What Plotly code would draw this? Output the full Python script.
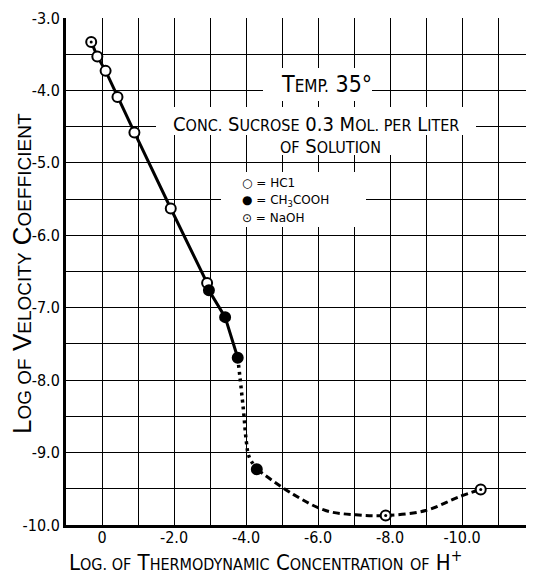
import plotly.graph_objects as go

# ---- data ----
hcl_x = [0.30, 0.13, -0.10, -0.43, -0.90, -1.91, -2.92]
hcl_y = [-3.33, -3.53, -3.73, -4.09, -4.58, -5.63, -6.66]
acetic_x = [-2.97, -3.42, -3.77, -4.30]
acetic_y = [-6.76, -7.13, -7.69, -9.23]
naoh_x = [-7.88, -10.52]
naoh_y = [-9.87, -9.51]

# smooth drawn curves
solid_x = [0.30, 0.13, -0.10, -0.43, -0.90, -1.91, -2.92, -2.97, -3.42, -3.77]
solid_y = [-3.33, -3.53, -3.73, -4.09, -4.58, -5.63, -6.66, -6.76, -7.13, -7.69]
dotted_x = [-3.77, -3.83, -3.93, -4.01, -4.08, -4.30]
dotted_y = [-7.69, -7.95, -8.42, -8.85, -9.05, -9.23]
dashed_x = [-4.30, -5.29, -6.21, -7.05, -7.88, -8.99, -9.92, -10.52]
dashed_y = [-9.23, -9.57, -9.80, -9.86, -9.87, -9.80, -9.61, -9.51]

x_tickvals = [0, -2, -4, -6, -8, -10]
x_ticktext = ["0", "-2.0", "-4.0", "-6.0", "-8.0", "-10.0"]
y_tickvals = [-3, -4, -5, -6, -7, -8, -9, -10]
y_ticktext = ["-3.0", "-4.0", "-5.0", "-6.0", "-7.0", "-8.0", "-9.0", "-10.0"]

# page body has an 8px margin, so the figure is placed 8px right/down
OFF = 8
W, H = 534 - OFF, 575 - OFF
L, R, T, B = 66 - OFF, 0, 18 - OFF, 50
PW, PH = W - L - R, H - T - B

def px(xs):  # screen pixel -> paper
    return (xs - OFF - L) / PW

def py(ys):
    return (H - B - (ys - OFF)) / PH

NARROW = "Liberation Sans Narrow, DejaVu Sans Condensed, sans-serif"
WIDE = "Liberation Sans, Arial, sans-serif"

def sc(s, small):
    return f"<span style='font-size:{small}px'>{s}</span>"

fig = go.Figure()

fig.add_trace(go.Scatter(x=solid_x, y=solid_y, mode="lines",
                         line=dict(color="black", width=3), hoverinfo="skip"))
fig.add_trace(go.Scatter(x=dotted_x, y=dotted_y, mode="lines", line_shape="spline",
                         line=dict(color="black", width=3.5, dash="3px,4px"), hoverinfo="skip"))
fig.add_trace(go.Scatter(x=dashed_x, y=dashed_y, mode="lines", line_shape="spline",
                         line=dict(color="black", width=3, dash="7px,4px"), hoverinfo="skip"))

fig.add_trace(go.Scatter(x=hcl_x, y=hcl_y, mode="markers", name="HCl",
                         marker=dict(symbol="circle", size=10, color="white",
                                     line=dict(color="black", width=2))))
fig.add_trace(go.Scatter(x=hcl_x[:1], y=hcl_y[:1], mode="markers",
                         marker=dict(symbol="circle", size=3, color="black")))
fig.add_trace(go.Scatter(x=acetic_x, y=acetic_y, mode="markers", name="CH3COOH",
                         marker=dict(symbol="circle", size=10, color="black",
                                     line=dict(color="black", width=2))))
fig.add_trace(go.Scatter(x=naoh_x, y=naoh_y, mode="markers", name="NaOH",
                         marker=dict(symbol="circle", size=10, color="white",
                                     line=dict(color="black", width=2))))
fig.add_trace(go.Scatter(x=naoh_x, y=naoh_y, mode="markers",
                         marker=dict(symbol="circle", size=3, color="black")))

def A(x, y, text, font, size, **kw):
    d = dict(x=px(x), y=py(y), xref="paper", yref="paper", text=text, showarrow=False,
             xanchor="center", yanchor="middle",
             font=dict(family=font, size=size, color="black"))
    d.update(kw)
    return d

# white boxes that interrupt the grid behind the lettering
boxes = [(263, 68, 372, 101), (156, 107, 476, 135), (268, 135, 392, 155), (221, 172, 366, 227)]
shapes = [dict(type="rect", xref="paper", yref="paper", layer="above",
               x0=px(a), x1=px(c), y0=py(d), y1=py(b),
               fillcolor="white", line=dict(width=0)) for a, b, c, d in boxes]

ann = []
ann.append(A(326, 84, "T" + sc("EMP.", 17) + " 35°", NARROW, 23))
ann.append(A(316, 124, "C" + sc("ONC.", 16) + " S" + sc("UCROSE", 16) + " 0.3 M"
             + sc("OL. PER", 16) + " L" + sc("ITER", 16), NARROW, 20))
ann.append(A(330, 146, sc("OF", 16) + " S" + sc("OLUTION", 16), NARROW, 20))
leg = [("○", "= HC1", 183), ("●", "= CH<sub>3</sub>COOH", 201), ("⊙", "= NaOH", 218)]
for sym, lab, yy in leg:
    ann.append(A(240, yy, sym + " " + lab, "DejaVu Sans, sans-serif", 12, xanchor="left"))
ann.append(A(22, 274, "L" + sc("OG OF", 19) + " V" + sc("ELOCITY", 19) + " C" + sc("OEFFICIENT", 19),
             WIDE, 26, textangle=-90))
ann.append(A(265, 561, "L" + sc("OG. OF", 16) + " T" + sc("HERMODYNAMIC", 16) + " C"
             + sc("ONCENTRATION", 16) + " " + sc("OF", 16) + " H<sup>+</sup>", NARROW, 22))

mg = dict(showgrid=True, gridcolor="black", gridwidth=1.3)
fig.update_layout(
    width=W, height=H, margin=dict(l=L, r=R, t=T, b=B, autoexpand=False),
    paper_bgcolor="white", plot_bgcolor="white", showlegend=False,
    annotations=ann, shapes=shapes,
    xaxis=dict(range=[1, -12], tickvals=x_tickvals, ticktext=x_ticktext,
               showline=True, linecolor="black", linewidth=3, zeroline=False,
               ticklabelstandoff=-4,
               tickfont=dict(family=NARROW, size=16, color="black"), **mg,
               minor=dict(dtick=1, tick0=0, **mg)),
    yaxis=dict(range=[-10, -3], tickvals=y_tickvals, ticktext=y_ticktext,
               showline=True, linecolor="black", linewidth=3, zeroline=False,
               tickfont=dict(family=NARROW, size=16, color="black"), **mg,
               minor=dict(dtick=0.5, tick0=0, **mg)),
)

fig.write_html("out.html")
